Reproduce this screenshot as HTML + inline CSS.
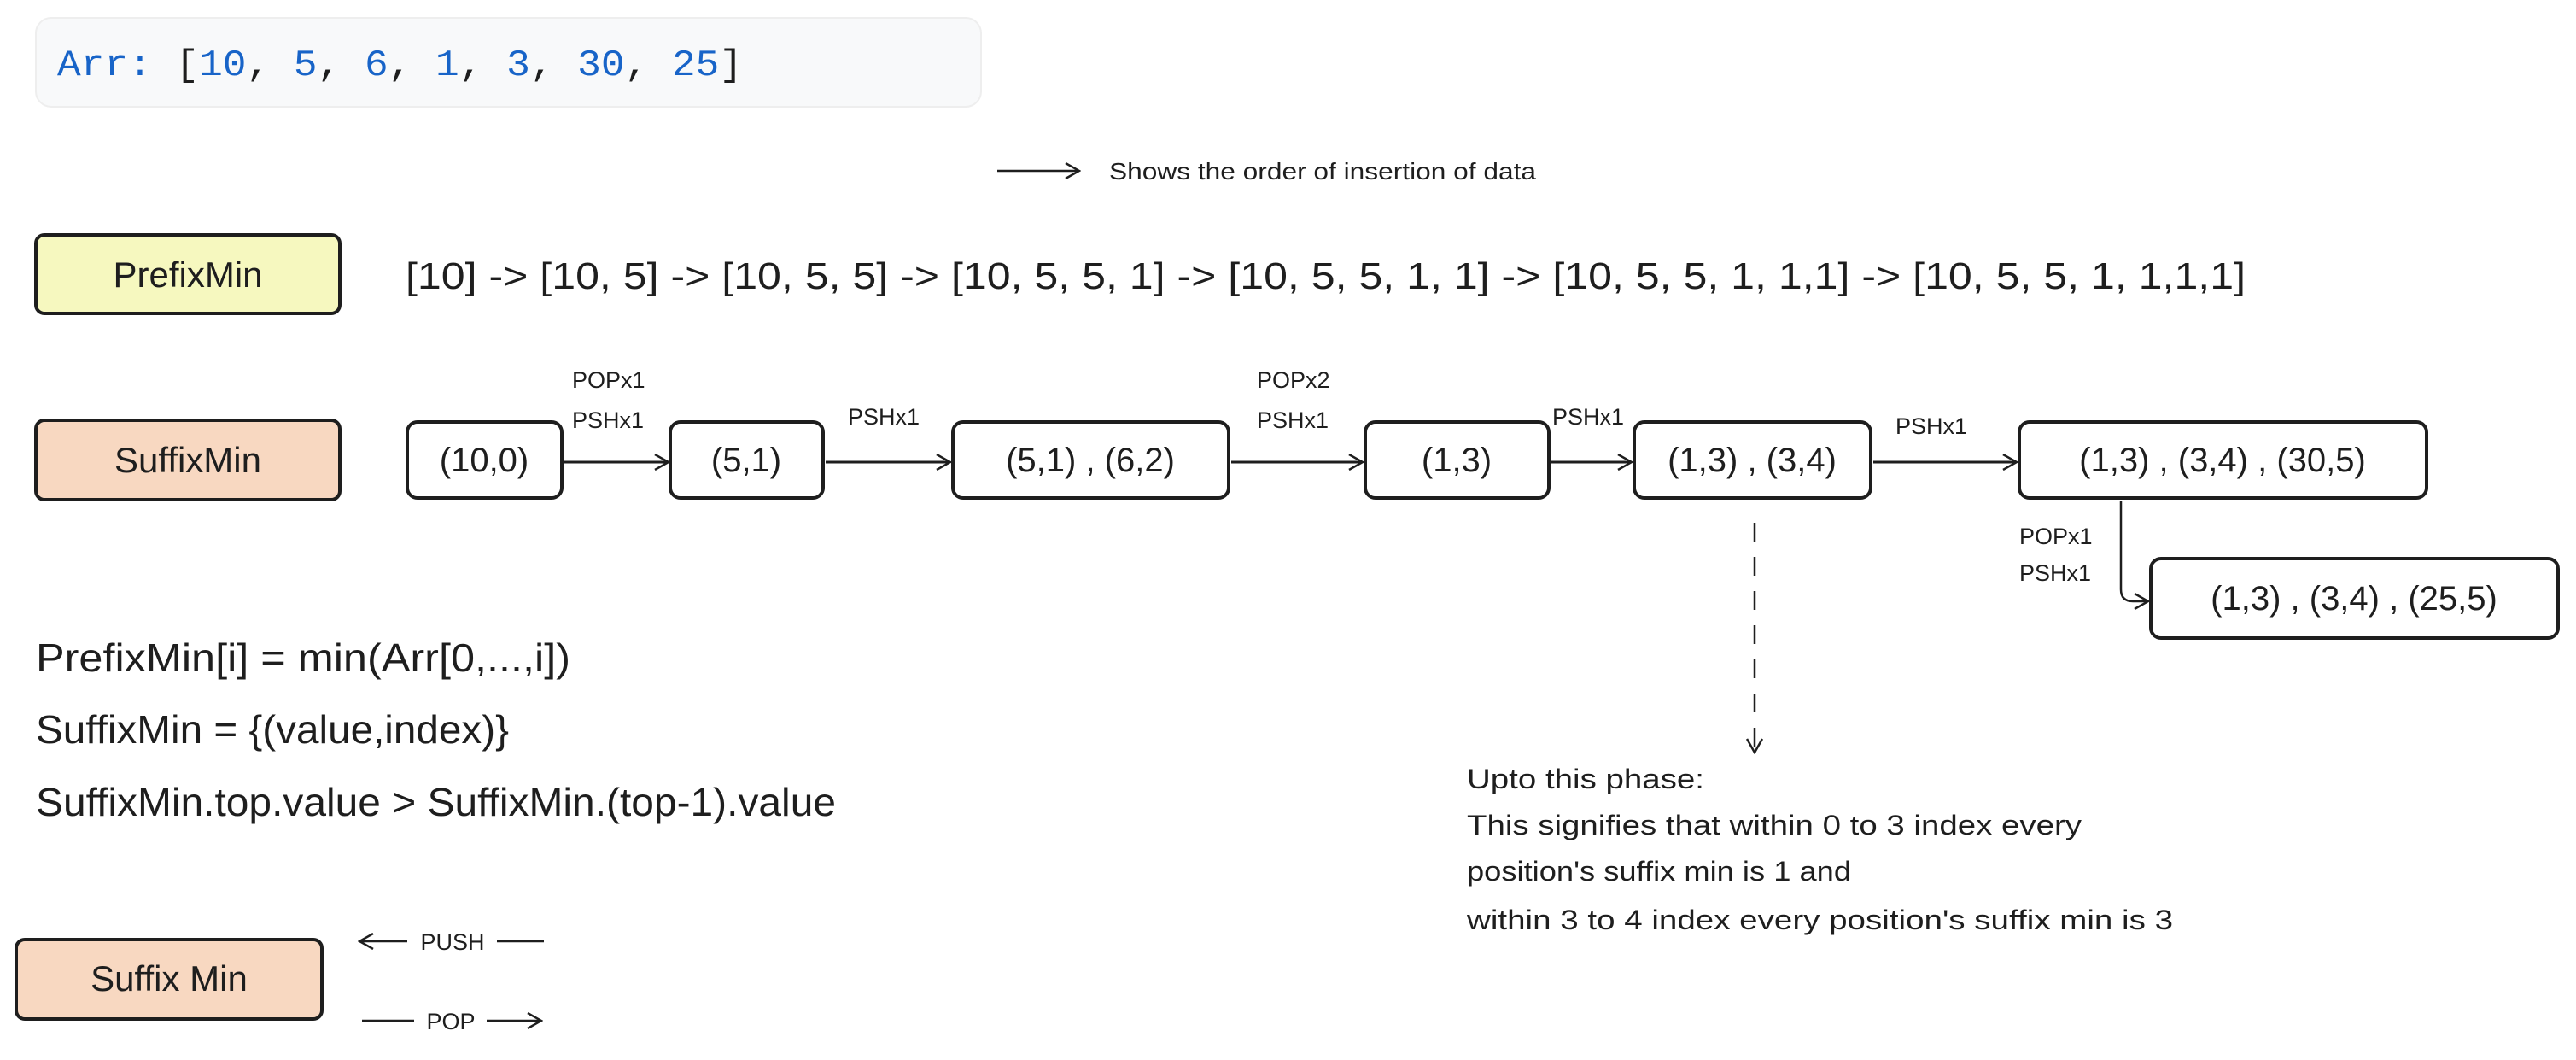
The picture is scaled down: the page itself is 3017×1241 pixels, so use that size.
<!DOCTYPE html>
<html><head><meta charset="utf-8"><style>
html,body{margin:0;padding:0;background:#fff;}
svg{display:block;}
text{font-family:"Liberation Sans",sans-serif;fill:#1e1e1e;}
.mono{font-family:"Liberation Mono",monospace;}
</style></head><body>
<svg width="3017" height="1241" viewBox="0 0 3017 1241" xmlns="http://www.w3.org/2000/svg">
<defs>
<marker id="ah" markerWidth="20" markerHeight="20" refX="18" refY="10" orient="auto" markerUnits="userSpaceOnUse">
<path d="M2,1 L18,10 L2,19" fill="none" stroke="#1e1e1e" stroke-width="2.5"/>
</marker>
</defs>
<!-- Arr box -->
<rect x="42" y="21" width="1107" height="104" rx="18" fill="#f8f9fa" stroke="#eeeeee" stroke-width="2"/>
<text class="mono" x="67" y="88" font-size="44" textLength="803" lengthAdjust="spacingAndGlyphs"><tspan fill="#1864c8">Arr:</tspan> [<tspan fill="#1864c8">10</tspan>, <tspan fill="#1864c8">5</tspan>, <tspan fill="#1864c8">6</tspan>, <tspan fill="#1864c8">1</tspan>, <tspan fill="#1864c8">3</tspan>, <tspan fill="#1864c8">30</tspan>, <tspan fill="#1864c8">25</tspan>]</text>

<!-- legend -->
<line x1="1168" y1="200" x2="1264" y2="200" stroke="#1e1e1e" stroke-width="2.5" marker-end="url(#ah)"/>
<text x="1299" y="210" font-size="28" textLength="500" lengthAdjust="spacingAndGlyphs">Shows the order of insertion of data</text>

<!-- PrefixMin -->
<rect x="42" y="275" width="356" height="92" rx="10" fill="#f6f8bf" stroke="#1e1e1e" stroke-width="4"/>
<text x="220" y="336" font-size="42" text-anchor="middle">PrefixMin</text>
<text x="475" y="338" font-size="44" textLength="2155" lengthAdjust="spacingAndGlyphs">[10] -&gt; [10, 5] -&gt; [10, 5, 5] -&gt; [10, 5, 5, 1] -&gt; [10, 5, 5, 1, 1] -&gt; [10, 5, 5, 1, 1,1] -&gt; [10, 5, 5, 1, 1,1,1]</text>

<!-- SuffixMin -->
<rect x="42" y="492" width="356" height="93" rx="10" fill="#f8d8c1" stroke="#1e1e1e" stroke-width="4"/>
<text x="220" y="553" font-size="42" text-anchor="middle">SuffixMin</text>

<g fill="#fff" stroke="#1e1e1e" stroke-width="4">
<rect x="477" y="494" width="181" height="89" rx="12"/>
<rect x="785" y="494" width="179" height="89" rx="12"/>
<rect x="1116" y="494" width="323" height="89" rx="12"/>
<rect x="1599" y="494" width="215" height="89" rx="12"/>
<rect x="1914" y="494" width="277" height="89" rx="12"/>
<rect x="2365" y="494" width="477" height="89" rx="12"/>
<rect x="2519" y="654" width="477" height="93" rx="12"/>
</g>
<g font-size="40" text-anchor="middle">
<text x="567" y="552">(10,0)</text>
<text x="874" y="552">(5,1)</text>
<text x="1277" y="552">(5,1) , (6,2)</text>
<text x="1706" y="552">(1,3)</text>
<text x="2052" y="552">(1,3) , (3,4)</text>
<text x="2603" y="552">(1,3) , (3,4) , (30,5)</text>
<text x="2757" y="714">(1,3) , (3,4) , (25,5)</text>
</g>
<g stroke="#1e1e1e" stroke-width="3" fill="none">
<line x1="661" y1="541" x2="783" y2="541" marker-end="url(#ah)"/>
<line x1="967" y1="541" x2="1113" y2="541" marker-end="url(#ah)"/>
<line x1="1442" y1="541" x2="1596" y2="541" marker-end="url(#ah)"/>
<line x1="1817" y1="541" x2="1911" y2="541" marker-end="url(#ah)"/>
<line x1="2194" y1="541" x2="2362" y2="541" marker-end="url(#ah)"/>
<path d="M2484,587 L2484,690 Q2484,704 2498,704 L2516,704" stroke-width="2.5" marker-end="url(#ah)"/>
<line x1="2055" y1="612" x2="2055" y2="881" stroke-width="2.5" stroke-dasharray="22,18" marker-end="url(#ah)"/>
</g>
<g font-size="27">
<text x="670" y="454">POPx1</text>
<text x="670" y="501">PSHx1</text>
<text x="993" y="497">PSHx1</text>
<text x="1472" y="454">POPx2</text>
<text x="1472" y="501">PSHx1</text>
<text x="1818" y="497">PSHx1</text>
<text x="2220" y="508">PSHx1</text>
<text x="2365" y="637">POPx1</text>
<text x="2365" y="680">PSHx1</text>
</g>

<g font-size="32">
<text x="1718" y="923" textLength="278" lengthAdjust="spacingAndGlyphs">Upto this phase:</text>
<text x="1718" y="977" textLength="720" lengthAdjust="spacingAndGlyphs">This signifies that within 0 to 3 index every</text>
<text x="1718" y="1031" textLength="450" lengthAdjust="spacingAndGlyphs">position's suffix min is 1 and</text>
<text x="1718" y="1088" textLength="827" lengthAdjust="spacingAndGlyphs">within 3 to 4 index every position's suffix min is 3</text>
</g>

<g font-size="46">
<text x="42" y="786" textLength="626" lengthAdjust="spacingAndGlyphs">PrefixMin[i] = min(Arr[0,...,i])</text>
<text x="42" y="870" textLength="554" lengthAdjust="spacingAndGlyphs">SuffixMin = {(value,index)}</text>
<text x="42" y="955" textLength="937" lengthAdjust="spacingAndGlyphs">SuffixMin.top.value &gt; SuffixMin.(top-1).value</text>
</g>

<rect x="19" y="1100" width="358" height="93" rx="10" fill="#f8d8c1" stroke="#1e1e1e" stroke-width="4"/>
<text x="198" y="1160" font-size="42" text-anchor="middle">Suffix Min</text>
<g stroke="#1e1e1e" stroke-width="2.5" fill="none">
<line x1="477" y1="1102" x2="421" y2="1102" marker-end="url(#ah)"/>
<line x1="582" y1="1102" x2="637" y2="1102"/>
<line x1="424" y1="1195" x2="485" y2="1195"/>
<line x1="570" y1="1195" x2="634" y2="1195" marker-end="url(#ah)"/>
</g>
<text x="530" y="1112" font-size="27" text-anchor="middle">PUSH</text>
<text x="528" y="1205" font-size="27" text-anchor="middle">POP</text>
</svg>
</body></html>
